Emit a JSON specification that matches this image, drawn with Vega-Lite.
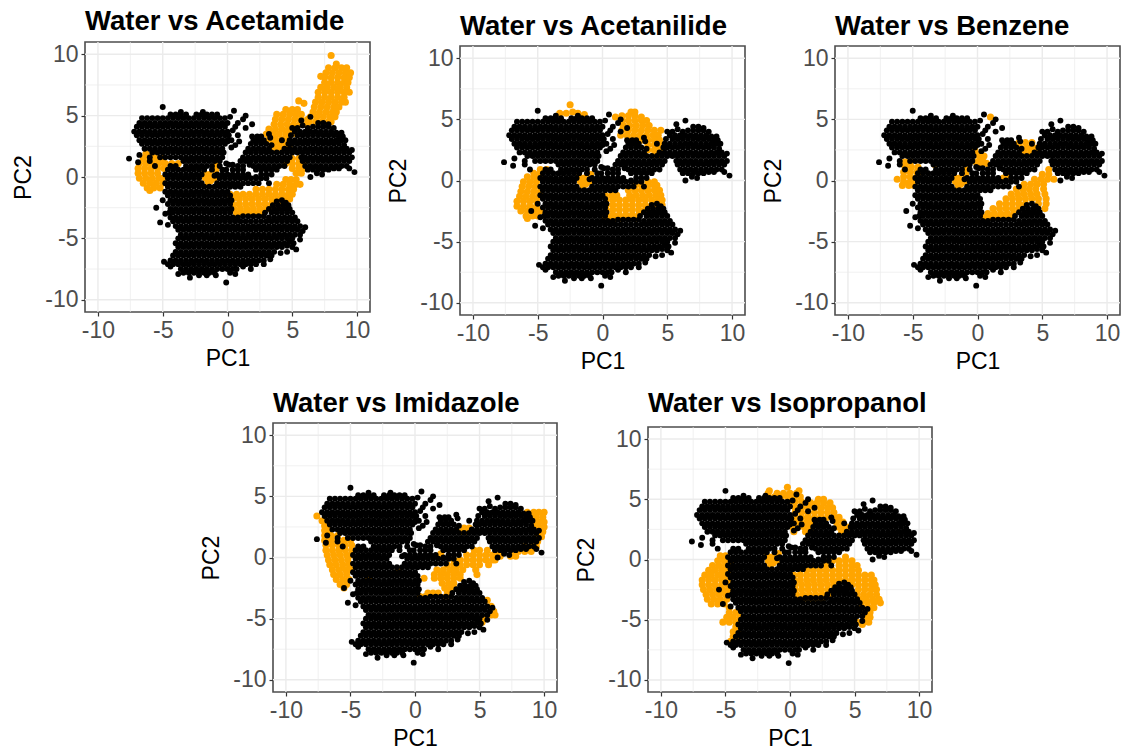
{"$schema":"https://vega.github.io/schema/vega-lite/v6.json","background":"white","padding":{"left":11,"top":7,"right":0,"bottom":0},"bounds":"flush","spacing":381,"config":{"view":{"stroke":"#4d4d4d","strokeWidth":1.6},"font":"Liberation Sans","axis":{"grid":false,"domain":false,"tickColor":"#333333","tickSize":4,"tickWidth":1.2,"labelColor":"#4d4d4d","labelFont":"Liberation Sans","labelFontSize":23,"labelPadding":3,"titleFont":"Liberation Sans","titleFontSize":23,"titleFontWeight":"normal","titleColor":"black"},"axisX":{"titlePadding":5},"axisY":{"titlePadding":9.7},"title":{"font":"Liberation Sans","fontSize":27.5,"fontWeight":"bold","color":"black","anchor":"start","frame":"group"},"circle":{"stroke":null}},
"datasets":{
"g":[{"v":-10,"k":"a"},{"v":-5,"k":"a"},{"v":0,"k":"a"},{"v":5,"k":"a"},{"v":10,"k":"a"},{"v":-7.5,"k":"b"},{"v":-2.5,"k":"b"},{"v":2.5,"k":"b"},{"v":7.5,"k":"b"}],
"w":[{"x":-5,"y":5.7},{"x":0.5,"y":5.4},{"x":-3.6,"y":5.3},{"x":-1.9,"y":5.3},{"x":-4.4,"y":5.1},{"x":-4,"y":5.1},{"x":-3.6,"y":5.1},{"x":-3.2,"y":5.1},{"x":-2.4,"y":5.1},{"x":-2,"y":5.1},{"x":-1.6,"y":5.1},{"x":-1.2,"y":5.1},{"x":-0.8,"y":5.1},{"x":1.4,"y":5},{"x":6.4,"y":4.9},{"x":-6.6,"y":4.8},{"x":-6.2,"y":4.8},{"x":-5.8,"y":4.8},{"x":-5.4,"y":4.8},{"x":-5,"y":4.8},{"x":-4.6,"y":4.8},{"x":-4.2,"y":4.8},{"x":-3.8,"y":4.8},{"x":-3.4,"y":4.8},{"x":-3,"y":4.8},{"x":-2.6,"y":4.8},{"x":-2.2,"y":4.8},{"x":-1.8,"y":4.8},{"x":-1.4,"y":4.8},{"x":-1,"y":4.8},{"x":-0.6,"y":4.8},{"x":-0.2,"y":4.8},{"x":0.2,"y":4.9},{"x":1.2,"y":4.7},{"x":5.7,"y":4.6},
{"x":-6.8,"y":4.4},{"x":-6.4,"y":4.4},{"x":-6,"y":4.4},{"x":-5.6,"y":4.4},{"x":-5.2,"y":4.4},{"x":-4.8,"y":4.4},{"x":-4.4,"y":4.4},{"x":-4,"y":4.4},{"x":-3.6,"y":4.4},{"x":-3.2,"y":4.4},{"x":-2.8,"y":4.4},{"x":-2.4,"y":4.4},{"x":-2,"y":4.4},{"x":-1.6,"y":4.4},{"x":-1.2,"y":4.4},{"x":-0.8,"y":4.4},{"x":-0.4,"y":4.4},{"x":0,"y":4.4},{"x":0.8,"y":4.4},{"x":1.9,"y":4.3},{"x":7,"y":4.4},{"x":7.4,"y":4.4},{"x":7.8,"y":4.3},
{"x":-7,"y":4.1},{"x":-6.6,"y":4.1},{"x":-6.2,"y":4.1},{"x":-5.8,"y":4.1},{"x":-5.4,"y":4.1},{"x":-5,"y":4.1},{"x":-4.6,"y":4.1},{"x":-4.2,"y":4.1},{"x":-3.8,"y":4.1},{"x":-3.4,"y":4.1},{"x":-3,"y":4.1},{"x":-2.6,"y":4.1},{"x":-2.2,"y":4.1},{"x":-1.8,"y":4.1},{"x":-1.4,"y":4.1},{"x":-1,"y":4.1},{"x":-0.6,"y":4.1},{"x":-0.2,"y":4.1},{"x":0.6,"y":4.1},{"x":1.4,"y":4},{"x":5,"y":4},{"x":5.4,"y":4},{"x":5.8,"y":4.2},{"x":6.2,"y":4},{"x":6.6,"y":4.1},{"x":7,"y":4.1},{"x":7.4,"y":4.1},{"x":7.8,"y":4.1},{"x":8.2,"y":4},
{"x":-7.2,"y":3.7},{"x":-6.8,"y":3.7},{"x":-6.4,"y":3.7},{"x":-6,"y":3.7},{"x":-5.6,"y":3.7},{"x":-5.2,"y":3.7},{"x":-4.8,"y":3.7},{"x":-4.4,"y":3.7},{"x":-4,"y":3.7},{"x":-3.6,"y":3.7},{"x":-3.2,"y":3.7},{"x":-2.8,"y":3.7},{"x":-2.4,"y":3.7},{"x":-2,"y":3.7},{"x":-1.6,"y":3.7},{"x":-1.2,"y":3.7},{"x":-0.8,"y":3.7},{"x":-0.4,"y":3.7},{"x":0,"y":3.7},{"x":0.4,"y":3.8},{"x":5.2,"y":3.7},{"x":5.6,"y":3.7},{"x":6,"y":3.7},{"x":6.4,"y":3.7},{"x":6.8,"y":3.7},{"x":7.2,"y":3.7},{"x":7.6,"y":3.7},{"x":8,"y":3.7},{"x":8.4,"y":3.6},{"x":8.8,"y":3.6},
{"x":-7,"y":3.4},{"x":-6.6,"y":3.4},{"x":-6.2,"y":3.4},{"x":-5.8,"y":3.4},{"x":-5.4,"y":3.4},{"x":-5,"y":3.4},{"x":-4.6,"y":3.4},{"x":-4.2,"y":3.4},{"x":-3.8,"y":3.4},{"x":-3.4,"y":3.4},{"x":-3,"y":3.4},{"x":-2.6,"y":3.4},{"x":-2.2,"y":3.4},{"x":-1.8,"y":3.4},{"x":-1.4,"y":3.4},{"x":-1,"y":3.4},{"x":-0.6,"y":3.4},{"x":-0.2,"y":3.4},{"x":0.1,"y":3.4},{"x":0.8,"y":3.4},{"x":3.2,"y":3.5},{"x":4.9,"y":3.4},{"x":5.4,"y":3.4},{"x":5.8,"y":3.4},{"x":6.2,"y":3.4},{"x":6.6,"y":3.4},{"x":7,"y":3.4},{"x":7.4,"y":3.4},{"x":7.8,"y":3.4},{"x":8.2,"y":3.4},{"x":8.6,"y":3.3},{"x":8.9,"y":3.3},
{"x":-6.8,"y":3},{"x":-6.4,"y":3},{"x":-6,"y":3},{"x":-5.6,"y":3},{"x":-5.2,"y":3},{"x":-4.8,"y":3},{"x":-4.4,"y":3},{"x":-4,"y":3},{"x":-3.6,"y":3},{"x":-3.2,"y":3},{"x":-2.8,"y":3},{"x":-2.4,"y":3},{"x":-2,"y":3},{"x":-1.6,"y":3},{"x":-1.2,"y":3},{"x":-0.8,"y":3},{"x":-0.4,"y":3},{"x":0,"y":3},{"x":0.3,"y":3},{"x":0.9,"y":2.9},{"x":1.9,"y":3.3},{"x":2.3,"y":3.3},{"x":2.6,"y":3.3},{"x":2,"y":3},{"x":2.4,"y":3},{"x":2.8,"y":3},{"x":3.3,"y":3.2},{"x":4.2,"y":3},{"x":4.8,"y":3},{"x":5.2,"y":3},{"x":5.6,"y":3},{"x":6,"y":3},{"x":6.4,"y":3},{"x":6.8,"y":3},{"x":7.2,"y":3},{"x":7.6,"y":3},{"x":8,"y":3},{"x":8.4,"y":3},{"x":8.8,"y":3},{"x":9.1,"y":3},
{"x":-6.6,"y":2.7},{"x":-6.2,"y":2.7},{"x":-5.8,"y":2.7},{"x":-5.4,"y":2.7},{"x":-5,"y":2.7},{"x":-4.6,"y":2.7},{"x":-4.2,"y":2.7},{"x":-3.8,"y":2.7},{"x":-3.4,"y":2.7},{"x":-3,"y":2.7},{"x":-2.6,"y":2.7},{"x":-2.2,"y":2.7},{"x":-1.8,"y":2.7},{"x":-1.4,"y":2.7},{"x":-1,"y":2.7},{"x":-0.6,"y":2.7},{"x":-0.2,"y":2.7},{"x":0.6,"y":2.6},{"x":1.8,"y":2.7},{"x":2.2,"y":2.7},{"x":2.6,"y":2.7},{"x":3,"y":2.7},{"x":3.4,"y":2.6},{"x":4.7,"y":2.7},{"x":5,"y":2.7},{"x":5.4,"y":2.7},{"x":5.8,"y":2.7},{"x":6.2,"y":2.7},{"x":6.6,"y":2.7},{"x":7,"y":2.7},{"x":7.4,"y":2.7},{"x":7.8,"y":2.7},{"x":8.2,"y":2.7},{"x":8.6,"y":2.7},{"x":9,"y":2.6},
{"x":-6.4,"y":2.3},{"x":-6,"y":2.3},{"x":-5.6,"y":2.3},{"x":-5.2,"y":2.3},{"x":-4.8,"y":2.3},{"x":-4.4,"y":2.3},{"x":-4,"y":2.3},{"x":-3.6,"y":2.3},{"x":-3.2,"y":2.3},{"x":-2.8,"y":2.3},{"x":-2.4,"y":2.3},{"x":-2,"y":2.3},{"x":-1.6,"y":2.3},{"x":-1.2,"y":2.3},{"x":-0.8,"y":2.3},{"x":-0.4,"y":2.3},{"x":0,"y":2.9},{"x":0.3,"y":2.4},{"x":1.6,"y":2.3},{"x":2,"y":2.3},{"x":2.4,"y":2.3},{"x":2.8,"y":2.3},{"x":3.2,"y":2.3},{"x":4.4,"y":2.3},{"x":4.8,"y":2.3},{"x":5.2,"y":2.3},{"x":5.6,"y":2.3},{"x":6,"y":2.3},{"x":6.4,"y":2.3},{"x":6.8,"y":2.3},{"x":7.2,"y":2.3},{"x":7.6,"y":2.3},{"x":8,"y":2.3},{"x":8.4,"y":2.3},{"x":8.8,"y":2.3},{"x":9.2,"y":2.3},{"x":9.6,"y":2.2},
{"x":-5.8,"y":2},{"x":-5.4,"y":2},{"x":-5,"y":2},{"x":-4.6,"y":2},{"x":-4.2,"y":2},{"x":-3.8,"y":2},{"x":-3.4,"y":2},{"x":-3,"y":2},{"x":-2.6,"y":2},{"x":-2.2,"y":2},{"x":-1.8,"y":2},{"x":-1.4,"y":2},{"x":-1,"y":2},{"x":-0.6,"y":2},{"x":-0.3,"y":2},{"x":1.4,"y":2},{"x":1.8,"y":2},{"x":2.2,"y":2},{"x":2.6,"y":2},{"x":3,"y":2},{"x":3.4,"y":2},{"x":3.8,"y":2},{"x":4.2,"y":2},{"x":4.6,"y":2},{"x":5,"y":2},{"x":5.4,"y":2},{"x":5.8,"y":2},{"x":6.2,"y":2},{"x":6.6,"y":2},{"x":7,"y":2},{"x":7.4,"y":2},{"x":7.8,"y":2},{"x":8.2,"y":2},{"x":8.6,"y":2},{"x":9,"y":2},{"x":9.4,"y":2},
{"x":-6.8,"y":1.8},{"x":-6,"y":1.6},{"x":-5.2,"y":1.6},{"x":-4.8,"y":1.6},{"x":-4.4,"y":1.6},{"x":-4,"y":1.6},{"x":-3.6,"y":1.6},{"x":-3.2,"y":1.6},{"x":-2.8,"y":1.6},{"x":-2.4,"y":1.6},{"x":-2,"y":1.6},{"x":-1.6,"y":1.6},{"x":-1.2,"y":1.6},{"x":-0.8,"y":1.6},{"x":-0.4,"y":1.6},{"x":1.2,"y":1.6},{"x":1.6,"y":1.6},{"x":2,"y":1.6},{"x":2.4,"y":1.6},{"x":2.8,"y":1.6},{"x":3.2,"y":1.6},{"x":3.6,"y":1.6},{"x":4,"y":1.6},{"x":4.4,"y":1.6},{"x":4.8,"y":1.6},{"x":5.7,"y":1.6},{"x":6,"y":1.6},{"x":6.4,"y":1.6},{"x":6.8,"y":1.6},{"x":7.2,"y":1.6},{"x":7.6,"y":1.6},{"x":8,"y":1.6},{"x":8.4,"y":1.6},{"x":8.8,"y":1.6},{"x":9.2,"y":1.6},{"x":9.6,"y":1.6},
{"x":-7.6,"y":1.5},{"x":-6.9,"y":1.2},{"x":-6,"y":1.3},{"x":-5.6,"y":0.9},{"x":-3.4,"y":1.3},{"x":-3,"y":1.3},{"x":-2.6,"y":1.3},{"x":-2.2,"y":1.3},{"x":-1.8,"y":1.3},{"x":-1.4,"y":1.3},{"x":-1,"y":1.3},{"x":-0.6,"y":1.3},{"x":-0.1,"y":1.1},{"x":1,"y":1.3},{"x":1.4,"y":1.3},{"x":1.8,"y":1.3},{"x":2.2,"y":1.3},{"x":2.6,"y":1.3},{"x":3,"y":1.3},{"x":3.4,"y":1.3},{"x":3.8,"y":1.3},{"x":4.2,"y":1.3},{"x":4.6,"y":1.3},{"x":5.8,"y":1.3},{"x":6.2,"y":1.3},{"x":6.6,"y":1.3},{"x":7,"y":1.3},{"x":7.4,"y":1.3},{"x":7.8,"y":1.3},{"x":8.2,"y":1.3},{"x":8.6,"y":1.3},{"x":9,"y":1.3},{"x":9.4,"y":1.3},
{"x":-4.4,"y":0.9},{"x":-4,"y":0.9},{"x":-3.2,"y":0.9},{"x":-2.8,"y":0.9},{"x":-2.4,"y":0.9},{"x":-2,"y":0.9},{"x":-1.6,"y":0.9},{"x":-1.2,"y":0.9},{"x":-0.6,"y":0.9},{"x":0.1,"y":1},{"x":0.4,"y":1},{"x":0.8,"y":0.9},{"x":1.2,"y":0.9},{"x":1.7,"y":1},{"x":2,"y":0.9},{"x":2.4,"y":0.9},{"x":2.8,"y":0.9},{"x":3.2,"y":0.9},{"x":3.6,"y":0.9},{"x":4,"y":0.9},{"x":4.4,"y":0.9},{"x":6,"y":0.9},{"x":6.4,"y":0.9},{"x":6.8,"y":0.9},{"x":7.2,"y":0.9},{"x":7.6,"y":0.9},{"x":8,"y":0.9},{"x":8.4,"y":0.9},{"x":8.8,"y":0.9},{"x":9.2,"y":0.9},{"x":9.4,"y":0.7},{"x":9.8,"y":0.4},
{"x":-4.6,"y":0.6},{"x":-4.2,"y":0.6},{"x":-3.8,"y":0.6},{"x":-3.4,"y":0.6},{"x":-3,"y":0.6},{"x":-2.6,"y":0.6},{"x":-2.2,"y":0.6},{"x":-1.8,"y":0.6},{"x":-1.2,"y":0.6},{"x":-0.4,"y":0.6},{"x":-0.1,"y":0.6},{"x":0.4,"y":0.6},{"x":0.8,"y":0.6},{"x":1.2,"y":0.6},{"x":2.2,"y":0.6},{"x":2.6,"y":0.6},{"x":3,"y":0.6},{"x":3.4,"y":0.6},{"x":3.8,"y":0.6},{"x":6.2,"y":0.6},{"x":6.6,"y":0.6},{"x":7,"y":0.6},{"x":7.4,"y":0.6},{"x":7.8,"y":0.6},{"x":8.2,"y":0.7},{"x":8.6,"y":0.7},{"x":6.9,"y":0.3},{"x":6.4,"y":0},{"x":7.3,"y":0.2},
{"x":-4.8,"y":0.2},{"x":-4.4,"y":0.2},{"x":-4,"y":0.2},{"x":-3.6,"y":0.2},{"x":-3.2,"y":0.2},{"x":-2.8,"y":0.2},{"x":-2.4,"y":0.2},{"x":-2,"y":0.2},{"x":-1,"y":0.1},{"x":-0.8,"y":0.2},{"x":-0.4,"y":0.2},{"x":0,"y":0.2},{"x":0.4,"y":0.2},{"x":0.8,"y":0.2},{"x":1.2,"y":0.2},{"x":1.6,"y":0.2},{"x":2.2,"y":0},{"x":2.6,"y":0.2},{"x":3,"y":0.2},{"x":3.4,"y":0.2},
{"x":-4.6,"y":-0.1},{"x":-4.2,"y":-0.1},{"x":-3.8,"y":-0.1},{"x":-3.4,"y":-0.1},{"x":-3,"y":-0.1},{"x":-2.6,"y":-0.1},{"x":-2.2,"y":-0.1},{"x":-0.6,"y":-0.1},{"x":-0.2,"y":-0.1},{"x":0.2,"y":-0.1},{"x":0.6,"y":-0.1},{"x":1,"y":-0.1},{"x":1.4,"y":-0.1},{"x":1.8,"y":-0.1},{"x":2.2,"y":-0.1},{"x":2.6,"y":-0.1},{"x":3,"y":-0.1},
{"x":-4.8,"y":-0.5},{"x":-4.4,"y":-0.5},{"x":-4,"y":-0.5},{"x":-3.6,"y":-0.5},{"x":-3.2,"y":-0.5},{"x":-2.8,"y":-0.5},{"x":-2.4,"y":-0.5},{"x":-2,"y":-0.5},{"x":-0.8,"y":-0.5},{"x":-0.4,"y":-0.5},{"x":0,"y":-0.5},{"x":0.4,"y":-0.5},{"x":0.8,"y":-0.5},{"x":1.2,"y":-0.5},{"x":1.6,"y":-0.5},{"x":2,"y":-0.5},{"x":2.4,"y":-0.5},{"x":3.2,"y":-0.5},
{"x":-4.6,"y":-0.8},{"x":-4.2,"y":-0.8},{"x":-3.8,"y":-0.8},{"x":-3.4,"y":-0.8},{"x":-3,"y":-0.8},{"x":-2.6,"y":-0.8},{"x":-2.2,"y":-0.8},{"x":-1.8,"y":-0.8},{"x":-1.4,"y":-0.8},{"x":-1,"y":-0.8},{"x":-0.6,"y":-0.8},{"x":-0.2,"y":-0.8},{"x":0.2,"y":-0.8},{"x":0.6,"y":-0.8},{"x":1,"y":-0.8},
{"x":-4.8,"y":-1.2},{"x":-4.4,"y":-1.2},{"x":-4,"y":-1.2},{"x":-3.6,"y":-1.2},{"x":-3.2,"y":-1.2},{"x":-2.8,"y":-1.2},{"x":-2.4,"y":-1.2},{"x":-2,"y":-1.2},{"x":-1.6,"y":-1.2},{"x":-1.2,"y":-1.2},{"x":-0.8,"y":-1.2},{"x":-0.4,"y":-1.2},{"x":0,"y":-1.2},
{"x":-4.6,"y":-1.5},{"x":-4.2,"y":-1.5},{"x":-3.8,"y":-1.5},{"x":-3.4,"y":-1.5},{"x":-3,"y":-1.5},{"x":-2.6,"y":-1.5},{"x":-2.2,"y":-1.5},{"x":-1.8,"y":-1.5},{"x":-1.4,"y":-1.5},{"x":-1,"y":-1.5},{"x":-0.6,"y":-1.5},{"x":-0.2,"y":-1.5},{"x":0.2,"y":-1.5},
{"x":-5,"y":-1.9},{"x":-4.4,"y":-1.9},{"x":-4,"y":-1.9},{"x":-3.6,"y":-1.9},{"x":-3.2,"y":-1.9},{"x":-2.8,"y":-1.9},{"x":-2.4,"y":-1.9},{"x":-2,"y":-1.9},{"x":-1.6,"y":-1.9},{"x":-1.2,"y":-1.9},{"x":-0.8,"y":-1.9},{"x":-0.4,"y":-1.9},{"x":0,"y":-1.9},{"x":0.3,"y":-1.9},
{"x":-4.6,"y":-2.2},{"x":-4.2,"y":-2.2},{"x":-3.8,"y":-2.2},{"x":-3.4,"y":-2.2},{"x":-3,"y":-2.2},{"x":-2.6,"y":-2.2},{"x":-2.2,"y":-2.2},{"x":-1.8,"y":-2.2},{"x":-1.4,"y":-2.2},{"x":-1,"y":-2.2},{"x":-0.6,"y":-2.2},{"x":-0.2,"y":-2.2},{"x":0.2,"y":-2.2},{"x":3.8,"y":-2},{"x":4.2,"y":-1.9},{"x":4.5,"y":-2.1},{"x":3.5,"y":-2.3},{"x":3.9,"y":-2.3},{"x":4.3,"y":-2.3},{"x":4.7,"y":-2.3},
{"x":-5.5,"y":-2.5},{"x":-4.4,"y":-2.6},{"x":-4,"y":-2.6},{"x":-3.6,"y":-2.6},{"x":-3.2,"y":-2.6},{"x":-2.8,"y":-2.6},{"x":-2.4,"y":-2.6},{"x":-2,"y":-2.6},{"x":-1.6,"y":-2.6},{"x":-1.2,"y":-2.6},{"x":-0.8,"y":-2.6},{"x":-0.4,"y":-2.6},{"x":0,"y":-2.6},{"x":0.3,"y":-2.6},{"x":3.2,"y":-2.6},{"x":3.6,"y":-2.6},{"x":4,"y":-2.6},{"x":4.4,"y":-2.6},{"x":4.8,"y":-2.6},
{"x":-4.8,"y":-3},{"x":-4.5,"y":-2.9},{"x":-4.2,"y":-2.9},{"x":-3.8,"y":-2.9},{"x":-3.4,"y":-2.9},{"x":-3,"y":-2.9},{"x":-2.6,"y":-2.9},{"x":-2.2,"y":-2.9},{"x":-1.8,"y":-2.9},{"x":-1.4,"y":-2.9},{"x":-1,"y":-2.9},{"x":-0.6,"y":-2.9},{"x":-0.2,"y":-2.9},{"x":0.2,"y":-2.9},{"x":2.9,"y":-2.9},{"x":3.4,"y":-2.9},{"x":3.8,"y":-2.9},{"x":4.2,"y":-2.9},{"x":4.6,"y":-2.9},{"x":5,"y":-2.9},
{"x":-4.4,"y":-3.3},{"x":-4,"y":-3.3},{"x":-3.6,"y":-3.3},{"x":-3.2,"y":-3.3},{"x":-2.8,"y":-3.3},{"x":-2.4,"y":-3.3},{"x":-2,"y":-3.3},{"x":-1.6,"y":-3.3},{"x":-1.2,"y":-3.3},{"x":-0.8,"y":-3.3},{"x":-0.4,"y":-3.3},{"x":0,"y":-3.3},{"x":0.4,"y":-3.3},{"x":0.8,"y":-3.3},{"x":1.2,"y":-3.2},{"x":1.6,"y":-3.2},{"x":2,"y":-3.2},{"x":2.4,"y":-3.2},{"x":2.8,"y":-3.2},{"x":3.2,"y":-3.3},{"x":3.6,"y":-3.3},{"x":4,"y":-3.3},{"x":4.4,"y":-3.3},{"x":4.8,"y":-3.3},{"x":5.2,"y":-3.3},
{"x":-5.2,"y":-3.7},{"x":-4.2,"y":-3.6},{"x":-3.8,"y":-3.6},{"x":-3.4,"y":-3.6},{"x":-3,"y":-3.6},{"x":-2.6,"y":-3.6},{"x":-2.2,"y":-3.6},{"x":-1.8,"y":-3.6},{"x":-1.4,"y":-3.6},{"x":-1,"y":-3.6},{"x":-0.6,"y":-3.6},{"x":-0.2,"y":-3.6},{"x":0.2,"y":-3.6},{"x":0.6,"y":-3.6},{"x":1,"y":-3.6},{"x":1.4,"y":-3.6},{"x":1.8,"y":-3.6},{"x":2.2,"y":-3.6},{"x":2.6,"y":-3.6},{"x":3,"y":-3.6},{"x":3.4,"y":-3.6},{"x":3.8,"y":-3.6},{"x":4.2,"y":-3.6},{"x":4.6,"y":-3.6},{"x":5,"y":-3.6},{"x":5.4,"y":-3.6},
{"x":-4.6,"y":-3.9},{"x":-4,"y":-4},{"x":-3.6,"y":-4},{"x":-3.2,"y":-4},{"x":-2.8,"y":-4},{"x":-2.4,"y":-4},{"x":-2,"y":-4},{"x":-1.6,"y":-4},{"x":-1.2,"y":-4},{"x":-0.8,"y":-4},{"x":-0.4,"y":-4},{"x":0,"y":-4},{"x":0.4,"y":-4},{"x":0.8,"y":-4},{"x":1.2,"y":-4},{"x":1.6,"y":-4},{"x":2,"y":-4},{"x":2.4,"y":-4},{"x":2.8,"y":-4},{"x":3.2,"y":-4},{"x":3.6,"y":-4},{"x":4,"y":-4},{"x":4.4,"y":-4},{"x":4.8,"y":-4},{"x":5.2,"y":-4},{"x":5.6,"y":-4},{"x":6,"y":-4.1},
{"x":-3.8,"y":-4.3},{"x":-3.4,"y":-4.3},{"x":-3,"y":-4.3},{"x":-2.6,"y":-4.3},{"x":-2.2,"y":-4.3},{"x":-1.8,"y":-4.3},{"x":-1.4,"y":-4.3},{"x":-1,"y":-4.3},{"x":-0.6,"y":-4.3},{"x":-0.2,"y":-4.3},{"x":0.2,"y":-4.3},{"x":0.6,"y":-4.3},{"x":1,"y":-4.3},{"x":1.4,"y":-4.3},{"x":1.8,"y":-4.3},{"x":2.2,"y":-4.3},{"x":2.6,"y":-4.3},{"x":3,"y":-4.3},{"x":3.4,"y":-4.3},{"x":3.8,"y":-4.3},{"x":4.2,"y":-4.3},{"x":4.6,"y":-4.3},{"x":5,"y":-4.3},{"x":5.4,"y":-4.3},{"x":5.8,"y":-4.4},
{"x":-3.6,"y":-4.7},{"x":-3.2,"y":-4.7},{"x":-2.8,"y":-4.7},{"x":-2.4,"y":-4.7},{"x":-2,"y":-4.7},{"x":-1.6,"y":-4.7},{"x":-1.2,"y":-4.7},{"x":-0.8,"y":-4.7},{"x":-0.4,"y":-4.7},{"x":0,"y":-4.7},{"x":0.4,"y":-4.7},{"x":0.8,"y":-4.7},{"x":1.2,"y":-4.7},{"x":1.6,"y":-4.7},{"x":2,"y":-4.7},{"x":2.4,"y":-4.7},{"x":2.8,"y":-4.7},{"x":3.2,"y":-4.7},{"x":3.6,"y":-4.7},{"x":4,"y":-4.7},{"x":4.4,"y":-4.7},{"x":4.8,"y":-4.7},{"x":5.2,"y":-4.7},{"x":5.6,"y":-4.7},
{"x":-3.8,"y":-5},{"x":-3.4,"y":-5},{"x":-3,"y":-5},{"x":-2.6,"y":-5},{"x":-2.2,"y":-5},{"x":-1.8,"y":-5},{"x":-1.4,"y":-5},{"x":-1,"y":-5},{"x":-0.6,"y":-5},{"x":-0.2,"y":-5},{"x":0.2,"y":-5},{"x":0.6,"y":-5},{"x":1,"y":-5},{"x":1.4,"y":-5},{"x":1.8,"y":-5},{"x":2.2,"y":-5},{"x":2.6,"y":-5},{"x":3,"y":-5},{"x":3.4,"y":-5},{"x":3.8,"y":-5},{"x":4.2,"y":-5},{"x":4.6,"y":-5},{"x":5,"y":-5},{"x":5.6,"y":-5.1},
{"x":-4,"y":-5.4},{"x":-3.6,"y":-5.4},{"x":-3.2,"y":-5.4},{"x":-2.8,"y":-5.4},{"x":-2.4,"y":-5.4},{"x":-2,"y":-5.4},{"x":-1.6,"y":-5.4},{"x":-1.2,"y":-5.4},{"x":-0.8,"y":-5.4},{"x":-0.4,"y":-5.4},{"x":0,"y":-5.4},{"x":0.4,"y":-5.4},{"x":0.8,"y":-5.4},{"x":1.2,"y":-5.4},{"x":1.6,"y":-5.4},{"x":2,"y":-5.4},{"x":2.4,"y":-5.4},{"x":2.8,"y":-5.4},{"x":3.2,"y":-5.4},{"x":3.6,"y":-5.4},{"x":4,"y":-5.4},{"x":4.4,"y":-5.4},{"x":4.8,"y":-5.3},{"x":5.1,"y":-5.4},
{"x":-3.8,"y":-5.7},{"x":-3.4,"y":-5.7},{"x":-3,"y":-5.7},{"x":-2.6,"y":-5.7},{"x":-2.2,"y":-5.7},{"x":-1.8,"y":-5.7},{"x":-1.4,"y":-5.7},{"x":-1,"y":-5.7},{"x":-0.6,"y":-5.7},{"x":-0.2,"y":-5.7},{"x":0.2,"y":-5.7},{"x":0.6,"y":-5.7},{"x":1,"y":-5.7},{"x":1.4,"y":-5.7},{"x":1.8,"y":-5.7},{"x":2.2,"y":-5.7},{"x":2.6,"y":-5.7},{"x":3,"y":-5.7},{"x":3.4,"y":-5.7},{"x":3.8,"y":-5.7},{"x":4.2,"y":-5.7},{"x":4.6,"y":-5.6},{"x":5,"y":-5.7},{"x":5.3,"y":-5.9},
{"x":-4,"y":-6.1},{"x":-3.6,"y":-6.1},{"x":-3.2,"y":-6.1},{"x":-2.8,"y":-6.1},{"x":-2.4,"y":-6.1},{"x":-2,"y":-6.1},{"x":-1.6,"y":-6.1},{"x":-1.2,"y":-6.1},{"x":-0.8,"y":-6.1},{"x":-0.4,"y":-6.1},{"x":0,"y":-6.1},{"x":0.4,"y":-6.1},{"x":0.8,"y":-6.1},{"x":1.2,"y":-6.1},{"x":1.6,"y":-6.1},{"x":2,"y":-6.1},{"x":2.4,"y":-6.1},{"x":2.8,"y":-6.1},{"x":3.2,"y":-6.1},{"x":3.6,"y":-6.1},{"x":4.1,"y":-6.2},{"x":4.6,"y":-6.1},
{"x":-4.2,"y":-6.4},{"x":-3.8,"y":-6.4},{"x":-3.4,"y":-6.4},{"x":-3,"y":-6.4},{"x":-2.6,"y":-6.4},{"x":-2.2,"y":-6.4},{"x":-1.8,"y":-6.4},{"x":-1.4,"y":-6.4},{"x":-1,"y":-6.4},{"x":-0.6,"y":-6.4},{"x":-0.2,"y":-6.4},{"x":0.2,"y":-6.4},{"x":0.6,"y":-6.4},{"x":1,"y":-6.4},{"x":1.4,"y":-6.4},{"x":1.8,"y":-6.4},{"x":2.2,"y":-6.4},{"x":2.6,"y":-6.4},{"x":3,"y":-6.4},{"x":3.4,"y":-6.4},
{"x":-4.4,"y":-6.8},{"x":-4,"y":-6.8},{"x":-3.6,"y":-6.8},{"x":-3.2,"y":-6.8},{"x":-2.8,"y":-6.8},{"x":-2.4,"y":-6.8},{"x":-2,"y":-6.8},{"x":-1.6,"y":-6.8},{"x":-1.2,"y":-6.8},{"x":-0.8,"y":-6.8},{"x":-0.4,"y":-6.8},{"x":0,"y":-6.8},{"x":0.4,"y":-6.8},{"x":0.8,"y":-6.8},{"x":1.2,"y":-6.8},{"x":1.6,"y":-6.8},{"x":2,"y":-6.8},{"x":2.4,"y":-6.8},{"x":2.8,"y":-6.8},{"x":3.3,"y":-6.7},
{"x":-4.9,"y":-6.9},{"x":-4.6,"y":-7.1},{"x":-4.2,"y":-7.1},{"x":-3.8,"y":-7.1},{"x":-3.4,"y":-7.1},{"x":-3,"y":-7.1},{"x":-2.6,"y":-7.1},{"x":-2.2,"y":-7.1},{"x":-1.8,"y":-7.1},{"x":-1.4,"y":-7.1},{"x":-1,"y":-7.1},{"x":-0.6,"y":-7.1},{"x":-0.2,"y":-7.1},{"x":0.2,"y":-7.1},{"x":0.6,"y":-7.1},{"x":1,"y":-7.1},{"x":1.4,"y":-7.1},{"x":1.8,"y":-7.1},{"x":2.2,"y":-7.1},{"x":2.8,"y":-7.1},
{"x":-4.4,"y":-7.3},{"x":-3.6,"y":-7.5},{"x":-3.2,"y":-7.5},{"x":-2.8,"y":-7.5},{"x":-2.4,"y":-7.5},{"x":-2,"y":-7.5},{"x":-1.6,"y":-7.5},{"x":-1.2,"y":-7.5},{"x":-0.8,"y":-7.5},{"x":-0.4,"y":-7.5},{"x":0,"y":-7.5},{"x":0.4,"y":-7.5},{"x":0.7,"y":-7.5},{"x":1.2,"y":-7.3},{"x":1.8,"y":-7.5},
{"x":-3.8,"y":-7.9},{"x":-3.4,"y":-7.8},{"x":-3,"y":-7.8},{"x":-2.6,"y":-7.8},{"x":-2.2,"y":-7.8},{"x":-1.8,"y":-7.8},{"x":-1.4,"y":-7.8},{"x":-1,"y":-7.8},{"x":-0.9,"y":-8},{"x":0.2,"y":-7.8},{"x":0.6,"y":-7.9},{"x":-2.9,"y":-8.2},{"x":-2.2,"y":-8},{"x":-1.6,"y":-8},{"x":-0.1,"y":-8.6}],
"a":[{"x":8,"y":9.9},{"x":8.4,"y":9.2},{"x":7.8,"y":8.9},{"x":8.3,"y":8.9},{"x":8.8,"y":8.9},{"x":9.2,"y":8.9},{"x":7.6,"y":8.5},{"x":8.1,"y":8.5},{"x":8.6,"y":8.5},{"x":9.1,"y":8.5},{"x":9.5,"y":8.5},{"x":7.2,"y":8.2},{"x":7.5,"y":8.1},{"x":8,"y":8.1},{"x":8.5,"y":8.1},{"x":9,"y":8.1},{"x":9.4,"y":8.1},{"x":7.5,"y":7.7},{"x":8,"y":7.7},{"x":8.5,"y":7.7},{"x":9,"y":7.7},{"x":9.3,"y":7.7},{"x":7.2,"y":7.3},{"x":7.7,"y":7.3},{"x":8.2,"y":7.3},{"x":8.7,"y":7.3},{"x":9.2,"y":7.3},{"x":7,"y":6.9},{"x":7.5,"y":6.9},{"x":8,"y":6.9},{"x":8.5,"y":6.9},{"x":9,"y":6.9},{"x":9.4,"y":6.9},{"x":7,"y":6.5},{"x":7.5,"y":6.5},{"x":8,"y":6.5},{"x":8.5,"y":6.5},{"x":9,"y":6.5},{"x":6.8,"y":6.1},{"x":7.3,"y":6.1},{"x":7.8,"y":6.1},{"x":8.3,"y":6.1},{"x":8.8,"y":6.1},{"x":9.1,"y":6.1},{"x":6.7,"y":5.7},{"x":7.2,"y":5.7},{"x":7.7,"y":5.7},{"x":8.2,"y":5.7},{"x":8.6,"y":5.7},{"x":6.6,"y":5.3},{"x":7.1,"y":5.3},{"x":7.6,"y":5.3},{"x":8.1,"y":5.3},{"x":8.4,"y":5.3},{"x":6.4,"y":4.9},{"x":6.9,"y":4.9},{"x":7.4,"y":4.9},{"x":7.9,"y":4.9},{"x":8.3,"y":4.9},{"x":6.3,"y":4.5},{"x":6.8,"y":4.5},{"x":7.3,"y":4.5},{"x":7.8,"y":4.5},{"x":8,"y":4.5},{"x":5.5,"y":6.2},{"x":5.9,"y":6},{"x":4.5,"y":5.5},{"x":5,"y":5.5},{"x":5.4,"y":5.5},{"x":3.8,"y":5.1},{"x":4.3,"y":5.1},{"x":4.8,"y":5.1},{"x":5.3,"y":5.1},{"x":5.7,"y":5.1},{"x":3.7,"y":4.7},{"x":4.2,"y":4.7},{"x":4.7,"y":4.7},{"x":5.2,"y":4.7},{"x":5.7,"y":4.7},{"x":6.2,"y":4.7},{"x":3.6,"y":4.3},{"x":4.1,"y":4.3},{"x":4.6,"y":4.3},{"x":5.1,"y":4.3},{"x":5.6,"y":4.3},{"x":6.1,"y":4.3},{"x":3.2,"y":3.9},{"x":3.7,"y":3.9},{"x":4.2,"y":3.9},{"x":4.7,"y":3.9},{"x":5.2,"y":3.9},{"x":3,"y":3.5},{"x":3.5,"y":3.5},{"x":4,"y":3.5},{"x":4.5,"y":3.5},{"x":5,"y":3.5},{"x":3.2,"y":3.1},{"x":3.7,"y":3.1},{"x":4.2,"y":3.1},{"x":4.7,"y":3.1},{"x":3.5,"y":2.7},{"x":4,"y":2.7},{"x":4.5,"y":2.7},{"x":3.3,"y":2.3},{"x":3.8,"y":2.3},{"x":4.3,"y":2.3},{"x":4.8,"y":2.3},{"x":5,"y":1.5},{"x":5.5,"y":1.5},{"x":4.5,"y":1.1},{"x":5,"y":1.1},{"x":5.5,"y":1.1},{"x":5.9,"y":1.1},{"x":5,"y":0.7},{"x":5.5,"y":0.7},{"x":5.9,"y":0.7},{"x":5.3,"y":0.3},{"x":5.7,"y":0.3},{"x":4.5,"y":-0.2},{"x":4.9,"y":-0.2},{"x":5.3,"y":-0.2},{"x":3.8,"y":-0.6},{"x":4.3,"y":-0.6},{"x":4.8,"y":-0.6},{"x":5.3,"y":-0.6},{"x":5.6,"y":-0.6},{"x":2.2,"y":-1},{"x":2.7,"y":-1},{"x":3.2,"y":-1},{"x":3.7,"y":-1},{"x":4.2,"y":-1},{"x":4.7,"y":-1},{"x":5.1,"y":-1},{"x":0.2,"y":-1.4},{"x":0.7,"y":-1.4},{"x":1.2,"y":-1.4},{"x":1.7,"y":-1.4},{"x":2.2,"y":-1.4},{"x":2.7,"y":-1.4},{"x":3.2,"y":-1.4},{"x":3.7,"y":-1.4},{"x":4.2,"y":-1.4},{"x":4.7,"y":-1.4},{"x":5,"y":-1.4},{"x":0.4,"y":-1.8},{"x":0.9,"y":-1.8},{"x":1.4,"y":-1.8},{"x":1.9,"y":-1.8},{"x":2.4,"y":-1.8},{"x":2.9,"y":-1.8},{"x":3.4,"y":-1.8},{"x":3.9,"y":-1.8},{"x":4.4,"y":-1.8},{"x":4.8,"y":-1.8},{"x":0.4,"y":-2.2},{"x":0.9,"y":-2.2},{"x":1.4,"y":-2.2},{"x":1.9,"y":-2.2},{"x":2.4,"y":-2.2},{"x":2.9,"y":-2.2},{"x":3.4,"y":-2.2},{"x":3.9,"y":-2.2},{"x":0.5,"y":-2.6},{"x":1,"y":-2.6},{"x":1.5,"y":-2.6},{"x":2,"y":-2.6},{"x":2.5,"y":-2.6},{"x":3,"y":-2.6},{"x":3.4,"y":-2.6},{"x":0.7,"y":-3},{"x":1.2,"y":-3},{"x":1.7,"y":-3},{"x":2.2,"y":-3},{"x":2.7,"y":-3},{"x":-6.3,"y":1.9},{"x":-5.8,"y":1.9},{"x":-6.5,"y":1.5},{"x":-6,"y":1.5},{"x":-5.5,"y":1.5},{"x":-5,"y":1.5},{"x":-6.8,"y":1.1},{"x":-6.3,"y":1.1},{"x":-5.8,"y":1.1},{"x":-5.3,"y":1.1},{"x":-4.8,"y":1.1},{"x":-4.3,"y":1.1},{"x":-3.8,"y":1.1},{"x":-6.9,"y":0.7},{"x":-6.4,"y":0.7},{"x":-5.9,"y":0.7},{"x":-5.4,"y":0.7},{"x":-4.9,"y":0.7},{"x":-6.9,"y":0.3},{"x":-6.4,"y":0.3},{"x":-5.9,"y":0.3},{"x":-5.4,"y":0.3},{"x":-6.8,"y":-0.1},{"x":-6.3,"y":-0.1},{"x":-5.8,"y":-0.1},{"x":-5.3,"y":-0.1},{"x":-5,"y":-0.1},{"x":-6.5,"y":-0.5},{"x":-6,"y":-0.5},{"x":-5.5,"y":-0.5},{"x":-5,"y":-0.5},{"x":-6.2,"y":-0.9},{"x":-5.7,"y":-0.9},{"x":-5.2,"y":-0.9},{"x":-6,"y":-1.1},{"x":-1.7,"y":-0.1},{"x":-1.4,"y":0.2},{"x":-1.3,"y":-0.3},{"x":-1.5,"y":-0.5},{"x":-1,"y":-0.1},{"x":-1.8,"y":0.3},{"x":-0.9,"y":0.5},{"x":-0.9,"y":0.9}],
"b":[{"x":-2.5,"y":6.2},{"x":-3.3,"y":5.5},{"x":-2.8,"y":5.5},{"x":-2.3,"y":5.6},{"x":-1.9,"y":5.5},{"x":-1.4,"y":5.4},{"x":2.2,"y":5.6},{"x":2.5,"y":5.6},{"x":1,"y":5.2},{"x":1.5,"y":5.3},{"x":2,"y":5.3},{"x":2.5,"y":5.3},{"x":3,"y":5.2},{"x":1.5,"y":4.9},{"x":2,"y":4.9},{"x":2.5,"y":4.9},{"x":3,"y":4.9},{"x":3.4,"y":4.9},{"x":1.6,"y":4.5},{"x":2.1,"y":4.5},{"x":2.6,"y":4.5},{"x":3.1,"y":4.5},{"x":3.6,"y":4.5},{"x":1.5,"y":4.1},{"x":2,"y":4.1},{"x":2.5,"y":4.1},{"x":3,"y":4.1},{"x":3.5,"y":4.1},{"x":4,"y":4.1},{"x":4.5,"y":4.1},{"x":1.4,"y":3.7},{"x":1.9,"y":3.7},{"x":2.4,"y":3.7},{"x":2.9,"y":3.7},{"x":3.4,"y":3.7},{"x":3.9,"y":3.7},{"x":4.3,"y":3.7},{"x":2,"y":3.3},{"x":2.5,"y":3.3},{"x":3,"y":3.3},{"x":3.5,"y":3.3},{"x":4,"y":3.3},{"x":4.4,"y":3.3},{"x":3.5,"y":2.9},{"x":4,"y":2.9},{"x":4.4,"y":2.9},{"x":3.5,"y":2.5},{"x":4,"y":2.5},{"x":4.4,"y":2.5},{"x":4,"y":2.1},{"x":4.3,"y":2.1},{"x":-4.8,"y":0.9},{"x":-4.3,"y":0.9},{"x":-5.3,"y":0.6},{"x":-4.8,"y":0.6},{"x":-5.8,"y":0.3},{"x":-5.3,"y":0.3},{"x":-4.8,"y":0.3},{"x":-6.1,"y":-0.1},{"x":-5.6,"y":-0.1},{"x":-5.1,"y":-0.1},{"x":-6.2,"y":-0.5},{"x":-5.7,"y":-0.5},{"x":-5.2,"y":-0.5},{"x":-6.3,"y":-0.9},{"x":-5.8,"y":-0.9},{"x":-5.3,"y":-0.9},{"x":-4.8,"y":-0.9},{"x":-6.4,"y":-1.3},{"x":-5.9,"y":-1.3},{"x":-5.4,"y":-1.3},{"x":-4.9,"y":-1.3},{"x":-6.6,"y":-1.7},{"x":-6.1,"y":-1.7},{"x":-5.6,"y":-1.7},{"x":-5.1,"y":-1.7},{"x":-6.6,"y":-2.1},{"x":-6.1,"y":-2.1},{"x":-5.6,"y":-2.1},{"x":-5.1,"y":-2.1},{"x":-6.3,"y":-2.5},{"x":-5.8,"y":-2.5},{"x":-5.3,"y":-2.5},{"x":-4.8,"y":-2.5},{"x":-5.9,"y":-2.9},{"x":-5.4,"y":-2.9},{"x":-5,"y":-2.9},{"x":-5.8,"y":-3.1},{"x":-1.7,"y":-0.1},{"x":-1.4,"y":0.2},{"x":-1.3,"y":-0.3},{"x":-1.5,"y":-0.5},{"x":-1,"y":-0.1},{"x":-1.8,"y":0.3},{"x":-0.9,"y":0.5},{"x":3.5,"y":-0.1},{"x":4,"y":-0.1},{"x":2.5,"y":-0.4},{"x":3,"y":-0.4},{"x":3.5,"y":-0.4},{"x":4,"y":-0.4},{"x":4.2,"y":-0.4},{"x":2,"y":-0.8},{"x":2.5,"y":-0.8},{"x":3,"y":-0.8},{"x":3.5,"y":-0.8},{"x":4,"y":-0.8},{"x":4.4,"y":-0.8},{"x":0.2,"y":-1.2},{"x":0.7,"y":-1.2},{"x":1.1,"y":-1.2},{"x":2.1,"y":-1.2},{"x":2.6,"y":-1.2},{"x":3.1,"y":-1.2},{"x":3.6,"y":-1.2},{"x":4.1,"y":-1.2},{"x":4.5,"y":-1.2},{"x":0.3,"y":-1.6},{"x":0.8,"y":-1.6},{"x":1.3,"y":-1.6},{"x":1.8,"y":-1.6},{"x":2.3,"y":-1.6},{"x":2.8,"y":-1.6},{"x":3.3,"y":-1.6},{"x":3.8,"y":-1.6},{"x":4.3,"y":-1.6},{"x":4.6,"y":-1.6},{"x":0.3,"y":-2},{"x":0.8,"y":-2},{"x":1.3,"y":-2},{"x":1.8,"y":-2},{"x":2.3,"y":-2},{"x":2.8,"y":-2},{"x":3.3,"y":-2},{"x":3.8,"y":-2},{"x":4.3,"y":-2},{"x":4.6,"y":-2},{"x":0.3,"y":-2.4},{"x":0.8,"y":-2.4},{"x":1.3,"y":-2.4},{"x":1.8,"y":-2.4},{"x":2.3,"y":-2.4},{"x":2.8,"y":-2.4},{"x":3.3,"y":-2.4},{"x":0.3,"y":-2.8},{"x":0.8,"y":-2.8},{"x":1.3,"y":-2.8},{"x":1.8,"y":-2.8},{"x":2.3,"y":-2.8},{"x":2.8,"y":-2.8},{"x":0.2,"y":-3.1},{"x":0.6,"y":-3.1},{"x":1,"y":-3.1},{"x":1.5,"y":-3.1},{"x":2,"y":-3.1},{"x":2.5,"y":-3.1}],
"c":[{"x":1,"y":5.2},{"x":-5.6,"y":1.5},{"x":-5.2,"y":1.5},{"x":-5.6,"y":1.1},{"x":-5.1,"y":1.1},{"x":-4.6,"y":1.1},{"x":-5.7,"y":0.7},{"x":-5.2,"y":0.7},{"x":-4.7,"y":0.7},{"x":-4.3,"y":0.7},{"x":-5.7,"y":0.3},{"x":-5.2,"y":0.3},{"x":-4.7,"y":0.3},{"x":-6.2,"y":0.1},{"x":-5.7,"y":-0.1},{"x":-5.2,"y":-0.1},{"x":-4.8,"y":-0.1},{"x":-5.8,"y":-0.4},{"x":-5.3,"y":-0.4},{"x":-4.9,"y":-0.4},{"x":-1.7,"y":-0.1},{"x":-1.4,"y":0.2},{"x":-1.3,"y":-0.3},{"x":-1.5,"y":-0.5},{"x":-1,"y":-0.1},{"x":-1.8,"y":0.3},{"x":-0.9,"y":0.5},{"x":-0.9,"y":0.9},{"x":-3.3,"y":1.3},{"x":-0.2,"y":2.5},{"x":0,"y":2.1},{"x":0.2,"y":1.8},{"x":0.4,"y":1.6},{"x":0.7,"y":1.4},{"x":0.3,"y":1.3},{"x":-0.1,"y":1.5},{"x":0.5,"y":2},{"x":3.2,"y":3.1},{"x":3.7,"y":3.1},{"x":4.2,"y":3.1},{"x":3.3,"y":2.7},{"x":3.8,"y":2.7},{"x":4.3,"y":2.7},{"x":4.7,"y":2.7},{"x":3.6,"y":2.3},{"x":4.1,"y":2.3},{"x":4.5,"y":2.3},{"x":2,"y":0.2},{"x":2.3,"y":0.3},{"x":5.5,"y":0.9},{"x":5,"y":0.5},{"x":5.5,"y":0.5},{"x":4.4,"y":0.1},{"x":4.9,"y":0.1},{"x":5.4,"y":0.1},{"x":5.9,"y":0.1},{"x":3.6,"y":-0.3},{"x":4.1,"y":-0.3},{"x":4.6,"y":-0.3},{"x":5.1,"y":-0.3},{"x":3,"y":-0.7},{"x":3.5,"y":-0.7},{"x":4,"y":-0.7},{"x":4.5,"y":-0.7},{"x":5.1,"y":-0.7},{"x":2.6,"y":-1.1},{"x":3.1,"y":-1.1},{"x":3.6,"y":-1.1},{"x":4.1,"y":-1.1},{"x":4.6,"y":-1.1},{"x":5.2,"y":-1.1},{"x":2.2,"y":-1.5},{"x":2.7,"y":-1.5},{"x":3.2,"y":-1.5},{"x":3.7,"y":-1.5},{"x":4.2,"y":-1.5},{"x":4.7,"y":-1.5},{"x":5.3,"y":-1.5},{"x":1.7,"y":-1.9},{"x":2.2,"y":-1.9},{"x":2.7,"y":-1.9},{"x":3.2,"y":-1.9},{"x":3.7,"y":-1.9},{"x":4.7,"y":-1.9},{"x":5.3,"y":-1.9},{"x":1.2,"y":-2.3},{"x":1.7,"y":-2.3},{"x":2.2,"y":-2.3},{"x":2.7,"y":-2.3},{"x":3.2,"y":-2.3},{"x":5.2,"y":-2.3},{"x":0.8,"y":-2.7},{"x":1.3,"y":-2.7},{"x":1.8,"y":-2.7},{"x":2.3,"y":-2.7},{"x":2.8,"y":-2.7},{"x":0.5,"y":-3},{"x":1,"y":-3},{"x":1.5,"y":-3},{"x":2,"y":-3},{"x":2.5,"y":-3}],
"d":[{"x":-7.6,"y":3.4},{"x":-7.2,"y":3},{"x":-7,"y":2.6},{"x":-6.8,"y":2.6},{"x":-7,"y":2.2},{"x":-6.6,"y":2.2},{"x":-7,"y":1.8},{"x":-6.5,"y":1.8},{"x":-6,"y":1.8},{"x":-7,"y":1.4},{"x":-6.5,"y":1.4},{"x":-6,"y":1.4},{"x":-5.5,"y":1.4},{"x":-5,"y":1.4},{"x":-6.9,"y":1},{"x":-6.4,"y":1},{"x":-5.9,"y":1},{"x":-5.4,"y":1},{"x":-4.9,"y":1},{"x":-6.9,"y":0.6},{"x":-6.4,"y":0.6},{"x":-5.9,"y":0.6},{"x":-5.4,"y":0.6},{"x":-4.9,"y":0.6},{"x":-6.8,"y":0.2},{"x":-6.3,"y":0.2},{"x":-5.8,"y":0.2},{"x":-5.3,"y":0.2},{"x":-4.9,"y":0.2},{"x":-6.7,"y":-0.2},{"x":-6.2,"y":-0.2},{"x":-5.7,"y":-0.2},{"x":-5.2,"y":-0.2},{"x":-6.6,"y":-0.6},{"x":-6.1,"y":-0.6},{"x":-5.6,"y":-0.6},{"x":-5.1,"y":-0.6},{"x":-6.4,"y":-1},{"x":-5.9,"y":-1},{"x":-5.4,"y":-1},{"x":-5,"y":-1},{"x":-6.3,"y":-1.4},{"x":-5.8,"y":-1.4},{"x":-5.3,"y":-1.4},{"x":-6.1,"y":-1.8},{"x":-5.6,"y":-1.8},{"x":-5.1,"y":-1.8},{"x":-5.8,"y":-2.2},{"x":-5.3,"y":-2.2},{"x":-5.5,"y":-2.5},{"x":8.7,"y":3.7},{"x":9.2,"y":3.7},{"x":9.6,"y":3.7},{"x":10,"y":3.7},{"x":9,"y":3.3},{"x":9.4,"y":3.3},{"x":9.9,"y":3.3},{"x":9.2,"y":2.9},{"x":9.6,"y":2.9},{"x":10,"y":2.9},{"x":9.2,"y":2.5},{"x":9.6,"y":2.5},{"x":10,"y":2.5},{"x":9.5,"y":2.1},{"x":9.9,"y":2.1},{"x":9.5,"y":1.7},{"x":9.8,"y":1.7},{"x":9.1,"y":1.3},{"x":9.5,"y":1.3},{"x":8.5,"y":0.9},{"x":9,"y":0.9},{"x":9.4,"y":0.9},{"x":7.6,"y":0.5},{"x":8,"y":0.5},{"x":8.5,"y":0.5},{"x":9,"y":0.5},{"x":7.4,"y":0.1},{"x":7.8,"y":0.1},{"x":6.6,"y":0.1},{"x":4.6,"y":0.6},{"x":5,"y":0.6},{"x":5.6,"y":0.6},{"x":4,"y":0.2},{"x":4.5,"y":0.2},{"x":5,"y":0.2},{"x":5.5,"y":0.2},{"x":6,"y":0.2},{"x":6.4,"y":0.2},{"x":3,"y":-0.2},{"x":3.5,"y":-0.2},{"x":4,"y":-0.2},{"x":4.5,"y":-0.2},{"x":5,"y":-0.2},{"x":5.5,"y":-0.2},{"x":6,"y":-0.2},{"x":6.2,"y":-0.2},{"x":2.5,"y":-0.6},{"x":3,"y":-0.6},{"x":3.5,"y":-0.6},{"x":4,"y":-0.6},{"x":4.5,"y":-0.6},{"x":5,"y":-0.6},{"x":5.7,"y":-0.6},{"x":1.7,"y":-1},{"x":2.2,"y":-1},{"x":2.7,"y":-1},{"x":3.2,"y":-1},{"x":3.7,"y":-1},{"x":4.7,"y":-1},{"x":1.5,"y":-1.4},{"x":2,"y":-1.4},{"x":2.5,"y":-1.4},{"x":3,"y":-1.4},{"x":3.5,"y":-1.4},{"x":4.8,"y":-1.4},{"x":0.7,"y":-1.7},{"x":1.5,"y":-1.7},{"x":2,"y":-1.7},{"x":2.5,"y":-1.7},{"x":3,"y":-1.7},{"x":3.5,"y":-1.7},{"x":2.1,"y":-2.1},{"x":2.6,"y":-2.1},{"x":3,"y":-2.1},{"x":2.3,"y":-2.5},{"x":2.8,"y":-2.5},{"x":3,"y":-2.5},{"x":1,"y":-2.9},{"x":1.4,"y":-2.9},{"x":1.8,"y":-2.9},{"x":2.5,"y":-2.8},{"x":0.4,"y":-3.2},{"x":0.8,"y":-3.2},{"x":2.4,"y":-3.2},{"x":3.8,"y":2.4},{"x":4.2,"y":2.4},{"x":3.6,"y":2.1},{"x":4,"y":2.1},{"x":5.6,"y":-3.5},{"x":5.9,"y":-4},{"x":5.9,"y":-4.4},{"x":6.1,"y":-4.4},{"x":6.2,"y":-4.7},{"x":5.9,"y":-4.7},{"x":5.4,"y":-5},{"x":5.2,"y":-5.3},{"x":4.9,"y":-5.3},{"x":-3.6,"y":-1.7},{"x":-1.3,"y":-1},{"x":2,"y":0.3}],
"e":[{"x":-0.2,"y":6},{"x":-1.6,"y":5.7},{"x":0.7,"y":5.7},{"x":-1.7,"y":5.5},{"x":-1,"y":5.5},{"x":-0.5,"y":5.5},{"x":0,"y":5.5},{"x":0.5,"y":5.5},{"x":-1.2,"y":5.2},{"x":-0.7,"y":5.2},{"x":-0.2,"y":5.2},{"x":0.3,"y":5.2},{"x":0.8,"y":5.2},{"x":0,"y":4.8},{"x":0.4,"y":4.8},{"x":0.9,"y":4.8},{"x":2.2,"y":5},{"x":2.6,"y":5},{"x":1.6,"y":4.7},{"x":2.1,"y":4.7},{"x":2.6,"y":4.7},{"x":3.1,"y":4.7},{"x":0.4,"y":4.3},{"x":0.9,"y":4.3},{"x":1.4,"y":4.3},{"x":1.9,"y":4.3},{"x":2.4,"y":4.3},{"x":2.9,"y":4.3},{"x":3.3,"y":4.3},{"x":0.4,"y":3.9},{"x":0.9,"y":3.9},{"x":1.4,"y":3.9},{"x":1.9,"y":3.9},{"x":2.4,"y":3.9},{"x":2.9,"y":3.9},{"x":3.4,"y":3.9},{"x":0.4,"y":3.5},{"x":0.9,"y":3.5},{"x":1.4,"y":3.5},{"x":1.9,"y":3.5},{"x":2.4,"y":3.5},{"x":2.9,"y":3.5},{"x":3.4,"y":3.5},{"x":3.8,"y":3.5},{"x":0.3,"y":3.1},{"x":0.8,"y":3.1},{"x":1.3,"y":3.1},{"x":1.8,"y":3.1},{"x":3.6,"y":3.1},{"x":4.1,"y":3.1},{"x":0.2,"y":2.7},{"x":0.6,"y":2.7},{"x":1.1,"y":2.7},{"x":1.5,"y":2.7},{"x":3.7,"y":2.7},{"x":4.2,"y":2.7},{"x":4.6,"y":2.7},{"x":0.3,"y":2.3},{"x":1.2,"y":2.3},{"x":1.6,"y":2.3},{"x":4,"y":2.3},{"x":4.5,"y":2.3},{"x":-1.7,"y":-0.1},{"x":-1.4,"y":0.2},{"x":-1.3,"y":-0.3},{"x":-1.5,"y":-0.5},{"x":-1,"y":-0.1},{"x":-1.8,"y":0.3},{"x":-0.9,"y":0.5},{"x":-5.4,"y":0.3},{"x":-5,"y":0.3},{"x":-5.6,"y":-0.1},{"x":-5.1,"y":-0.1},{"x":-4.6,"y":-0.1},{"x":-6,"y":-0.5},{"x":-5.5,"y":-0.5},{"x":-5,"y":-0.5},{"x":-4.5,"y":-0.5},{"x":-6.3,"y":-0.9},{"x":-5.8,"y":-0.9},{"x":-5.3,"y":-0.9},{"x":-4.8,"y":-0.9},{"x":-6.6,"y":-1.3},{"x":-6.1,"y":-1.3},{"x":-5.6,"y":-1.3},{"x":-5.1,"y":-1.3},{"x":-6.8,"y":-1.7},{"x":-6.3,"y":-1.7},{"x":-5.8,"y":-1.7},{"x":-5.3,"y":-1.7},{"x":-4.8,"y":-1.7},{"x":-6.8,"y":-2.1},{"x":-6.3,"y":-2.1},{"x":-5.8,"y":-2.1},{"x":-5.3,"y":-2.1},{"x":-4.8,"y":-2.1},{"x":-6.7,"y":-2.5},{"x":-6.2,"y":-2.5},{"x":-5.7,"y":-2.5},{"x":-5.2,"y":-2.5},{"x":-4.7,"y":-2.5},{"x":-6.5,"y":-2.9},{"x":-6,"y":-2.9},{"x":-5.5,"y":-2.9},{"x":-5,"y":-2.9},{"x":-6.4,"y":-3.3},{"x":-5.9,"y":-3.3},{"x":-5.4,"y":-3.3},{"x":-4.9,"y":-3.3},{"x":-6.1,"y":-3.7},{"x":-5.6,"y":-3.7},{"x":-5.1,"y":-3.7},{"x":-4.7,"y":-4},{"x":-4.2,"y":-4.4},{"x":-4.7,"y":-4.4},{"x":-4.9,"y":-4.8},{"x":-4.4,"y":-4.8},{"x":-3.9,"y":-4.8},{"x":-5.2,"y":-5.2},{"x":-4.7,"y":-5.2},{"x":-4.2,"y":-5.2},{"x":-4.2,"y":-5.6},{"x":-3.9,"y":-5.6},{"x":-4.4,"y":-6},{"x":-4,"y":-6},{"x":-4.4,"y":-6.4},{"x":-4,"y":-6.4},{"x":-4.6,"y":-6.8},{"x":-4.2,"y":-6.8},{"x":2.8,"y":-0.1},{"x":3.3,"y":-0.1},{"x":3.8,"y":-0.1},{"x":4.3,"y":-0.1},{"x":4.8,"y":-0.1},{"x":4.3,"y":0.2},{"x":1.8,"y":-0.5},{"x":2.8,"y":-0.5},{"x":3.8,"y":-0.5},{"x":4.3,"y":-0.5},{"x":4.8,"y":-0.5},{"x":5.2,"y":-0.5},{"x":0.8,"y":-0.9},{"x":1.3,"y":-0.9},{"x":1.8,"y":-0.9},{"x":2.3,"y":-0.9},{"x":2.8,"y":-0.9},{"x":3.3,"y":-0.9},{"x":3.8,"y":-0.9},{"x":4.3,"y":-0.9},{"x":4.8,"y":-0.9},{"x":5.3,"y":-0.9},{"x":0.3,"y":-1.3},{"x":0.8,"y":-1.3},{"x":1.3,"y":-1.3},{"x":1.8,"y":-1.3},{"x":2.3,"y":-1.3},{"x":2.8,"y":-1.3},{"x":3.3,"y":-1.3},{"x":3.8,"y":-1.3},{"x":4.3,"y":-1.3},{"x":4.8,"y":-1.3},{"x":5.3,"y":-1.3},{"x":5.8,"y":-1.3},{"x":6.3,"y":-1.3},{"x":0.3,"y":-1.7},{"x":0.8,"y":-1.7},{"x":1.3,"y":-1.7},{"x":1.8,"y":-1.7},{"x":2.3,"y":-1.7},{"x":2.8,"y":-1.7},{"x":3.3,"y":-1.7},{"x":3.8,"y":-1.7},{"x":4.3,"y":-1.7},{"x":4.8,"y":-1.7},{"x":5.3,"y":-1.7},{"x":5.8,"y":-1.7},{"x":6.3,"y":-1.7},{"x":6.5,"y":-1.7},{"x":0.4,"y":-2.1},{"x":0.9,"y":-2.1},{"x":1.4,"y":-2.1},{"x":1.9,"y":-2.1},{"x":2.4,"y":-2.1},{"x":2.9,"y":-2.1},{"x":3.4,"y":-2.1},{"x":4.8,"y":-2.1},{"x":5.3,"y":-2.1},{"x":5.8,"y":-2.1},{"x":6.3,"y":-2.1},{"x":6.6,"y":-2.1},{"x":0.4,"y":-2.5},{"x":0.9,"y":-2.5},{"x":1.4,"y":-2.5},{"x":1.9,"y":-2.5},{"x":2.4,"y":-2.5},{"x":2.9,"y":-2.5},{"x":3.4,"y":-2.5},{"x":5.3,"y":-2.5},{"x":5.8,"y":-2.5},{"x":6.3,"y":-2.5},{"x":6.7,"y":-2.5},{"x":0.5,"y":-2.9},{"x":1,"y":-2.9},{"x":1.5,"y":-2.9},{"x":2,"y":-2.9},{"x":2.5,"y":-2.9},{"x":3,"y":-2.9},{"x":5.2,"y":-2.9},{"x":5.7,"y":-2.9},{"x":6.2,"y":-2.9},{"x":6.7,"y":-2.9},{"x":0.5,"y":-3.3},{"x":1,"y":-3.3},{"x":1.5,"y":-3.3},{"x":2,"y":-3.3},{"x":2.5,"y":-3.3},{"x":5.4,"y":-3.3},{"x":5.9,"y":-3.3},{"x":6.4,"y":-3.3},{"x":6.9,"y":-3.3},{"x":5.5,"y":-3.6},{"x":6,"y":-3.6},{"x":6.5,"y":-3.6},{"x":7,"y":-3.6},{"x":5.6,"y":-4},{"x":6.1,"y":-4},{"x":6.5,"y":-4},{"x":5.7,"y":-4.4},{"x":6.2,"y":-4.4},{"x":5.9,"y":-4.8},{"x":6.2,"y":-4.8},{"x":5.2,"y":-5.2},{"x":5.7,"y":-5.2},{"x":6.1,"y":-5.2},{"x":5.6,"y":-5.4}]
},
"vconcat":[
{"hconcat":[
{"bounds":"flush","spacing":0,"vconcat":[
{"width":285,"height":270,"title":{"text":"Water vs Acetamide","offset":6},"layer":[
{"data":{"name":"g"},"mark":"rule","encoding":{"x":{"field":"v","type":"quantitative","scale":{"domain":[-11,11],"nice":false,"zero":false},"axis":{"values":[-10,-5,0,5,10],"title":"PC1","labelExpr":"''+datum.value"}},"color":{"value":"#ebebeb"},"size":{"field":"k","type":"nominal","scale":{"domain":["a","b"],"range":[1.4,0.7]},"legend":null}}},
{"data":{"name":"g"},"mark":"rule","encoding":{"y":{"field":"v","type":"quantitative","scale":{"domain":[-11,11],"nice":false,"zero":false},"axis":{"values":[-10,-5,0,5,10],"title":"PC2","labelExpr":"''+datum.value"}},"color":{"value":"#ebebeb"},"size":{"field":"k","type":"nominal","scale":{"domain":["a","b"],"range":[1.4,0.7]},"legend":null}}},
{"data":{"name":"a"},"mark":{"type":"circle","opacity":1,"size":50,"color":"orange"},"encoding":{"x":{"field":"x","type":"quantitative","title":"PC1"},"y":{"field":"y","type":"quantitative","title":"PC2"}}},
{"data":{"name":"w"},"mark":{"type":"circle","opacity":1,"size":35,"color":"black"},"encoding":{"x":{"field":"x","type":"quantitative","title":"PC1"},"y":{"field":"y","type":"quantitative","title":"PC2"}}}
]}]},
{"bounds":"flush","spacing":0,"vconcat":[{"width":1,"height":4,"view":{"stroke":null},"data":{"values":[{"x":0}]},"mark":{"type":"rule","opacity":0},"encoding":{}},
{"width":285,"height":269,"title":{"text":"Water vs Acetanilide","offset":5},"layer":[
{"data":{"name":"g"},"mark":"rule","encoding":{"x":{"field":"v","type":"quantitative","scale":{"domain":[-11,11],"nice":false,"zero":false},"axis":{"values":[-10,-5,0,5,10],"title":"PC1","labelExpr":"''+datum.value"}},"color":{"value":"#ebebeb"},"size":{"field":"k","type":"nominal","scale":{"domain":["a","b"],"range":[1.4,0.7]},"legend":null}}},
{"data":{"name":"g"},"mark":"rule","encoding":{"y":{"field":"v","type":"quantitative","scale":{"domain":[-11,11],"nice":false,"zero":false},"axis":{"values":[-10,-5,0,5,10],"title":"PC2","labelExpr":"''+datum.value"}},"color":{"value":"#ebebeb"},"size":{"field":"k","type":"nominal","scale":{"domain":["a","b"],"range":[1.4,0.7]},"legend":null}}},
{"data":{"name":"b"},"mark":{"type":"circle","opacity":1,"size":50,"color":"orange"},"encoding":{"x":{"field":"x","type":"quantitative","title":"PC1"},"y":{"field":"y","type":"quantitative","title":"PC2"}}},
{"data":{"name":"w"},"mark":{"type":"circle","opacity":1,"size":35,"color":"black"},"encoding":{"x":{"field":"x","type":"quantitative","title":"PC1"},"y":{"field":"y","type":"quantitative","title":"PC2"}}}
]}]},
{"bounds":"flush","spacing":0,"vconcat":[{"width":1,"height":4,"view":{"stroke":null},"data":{"values":[{"x":0}]},"mark":{"type":"rule","opacity":0},"encoding":{}},
{"width":285,"height":269,"title":{"text":"Water vs Benzene","offset":5},"layer":[
{"data":{"name":"g"},"mark":"rule","encoding":{"x":{"field":"v","type":"quantitative","scale":{"domain":[-11,11],"nice":false,"zero":false},"axis":{"values":[-10,-5,0,5,10],"title":"PC1","labelExpr":"''+datum.value"}},"color":{"value":"#ebebeb"},"size":{"field":"k","type":"nominal","scale":{"domain":["a","b"],"range":[1.4,0.7]},"legend":null}}},
{"data":{"name":"g"},"mark":"rule","encoding":{"y":{"field":"v","type":"quantitative","scale":{"domain":[-11,11],"nice":false,"zero":false},"axis":{"values":[-10,-5,0,5,10],"title":"PC2","labelExpr":"''+datum.value"}},"color":{"value":"#ebebeb"},"size":{"field":"k","type":"nominal","scale":{"domain":["a","b"],"range":[1.4,0.7]},"legend":null}}},
{"data":{"name":"c"},"mark":{"type":"circle","opacity":1,"size":50,"color":"orange"},"encoding":{"x":{"field":"x","type":"quantitative","title":"PC1"},"y":{"field":"y","type":"quantitative","title":"PC2"}}},
{"data":{"name":"w"},"mark":{"type":"circle","opacity":1,"size":35,"color":"black"},"encoding":{"x":{"field":"x","type":"quantitative","title":"PC1"},"y":{"field":"y","type":"quantitative","title":"PC2"}}}
]}]}
],"bounds":"flush","spacing":375},
{"hconcat":[
{"width":97,"height":1,"view":{"stroke":null},"data":{"values":[{"x":0}]},"mark":{"type":"rule","opacity":0},"encoding":{}},
{"width":284,"height":269,"title":{"text":"Water vs Imidazole","offset":5},"layer":[
{"data":{"name":"g"},"mark":"rule","encoding":{"x":{"field":"v","type":"quantitative","scale":{"domain":[-11,11],"nice":false,"zero":false},"axis":{"values":[-10,-5,0,5,10],"title":"PC1","labelExpr":"''+datum.value"}},"color":{"value":"#ebebeb"},"size":{"field":"k","type":"nominal","scale":{"domain":["a","b"],"range":[1.4,0.7]},"legend":null}}},
{"data":{"name":"g"},"mark":"rule","encoding":{"y":{"field":"v","type":"quantitative","scale":{"domain":[-11,11],"nice":false,"zero":false},"axis":{"values":[-10,-5,0,5,10],"title":"PC2","labelExpr":"''+datum.value"}},"color":{"value":"#ebebeb"},"size":{"field":"k","type":"nominal","scale":{"domain":["a","b"],"range":[1.4,0.7]},"legend":null}}},
{"data":{"name":"d"},"mark":{"type":"circle","opacity":1,"size":50,"color":"orange"},"encoding":{"x":{"field":"x","type":"quantitative","title":"PC1"},"y":{"field":"y","type":"quantitative","title":"PC2"}}},
{"data":{"name":"w"},"mark":{"type":"circle","opacity":1,"size":35,"color":"black"},"encoding":{"x":{"field":"x","type":"quantitative","title":"PC1"},"y":{"field":"y","type":"quantitative","title":"PC2"}}}
]},
{"bounds":"flush","spacing":0,"vconcat":[{"width":1,"height":4,"view":{"stroke":null},"data":{"values":[{"x":0}]},"mark":{"type":"rule","opacity":0},"encoding":{}},
{"width":284,"height":265,"title":{"text":"Water vs Isopropanol","offset":9},"layer":[
{"data":{"name":"g"},"mark":"rule","encoding":{"x":{"field":"v","type":"quantitative","scale":{"domain":[-11,11],"nice":false,"zero":false},"axis":{"values":[-10,-5,0,5,10],"title":"PC1","labelExpr":"''+datum.value"}},"color":{"value":"#ebebeb"},"size":{"field":"k","type":"nominal","scale":{"domain":["a","b"],"range":[1.4,0.7]},"legend":null}}},
{"data":{"name":"g"},"mark":"rule","encoding":{"y":{"field":"v","type":"quantitative","scale":{"domain":[-11,11],"nice":false,"zero":false},"axis":{"values":[-10,-5,0,5,10],"title":"PC2","labelExpr":"''+datum.value"}},"color":{"value":"#ebebeb"},"size":{"field":"k","type":"nominal","scale":{"domain":["a","b"],"range":[1.4,0.7]},"legend":null}}},
{"data":{"name":"e"},"mark":{"type":"circle","opacity":1,"size":50,"color":"orange"},"encoding":{"x":{"field":"x","type":"quantitative","title":"PC1"},"y":{"field":"y","type":"quantitative","title":"PC2"}}},
{"data":{"name":"w"},"mark":{"type":"circle","opacity":1,"size":35,"color":"black"},"encoding":{"x":{"field":"x","type":"quantitative","title":"PC1"},"y":{"field":"y","type":"quantitative","title":"PC2"}}}
]}]}
],"bounds":"flush","spacing":91}
]}
